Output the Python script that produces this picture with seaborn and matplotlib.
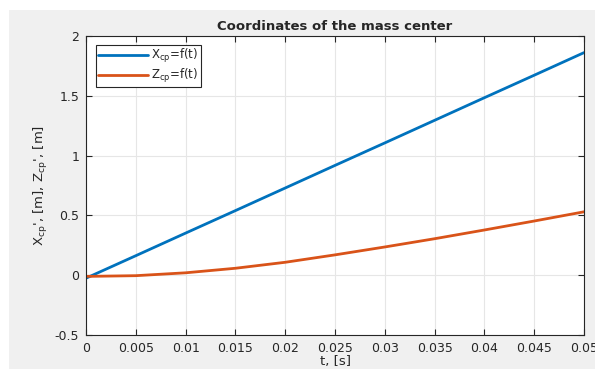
import numpy as np
import pandas as pd
import seaborn as sns
import matplotlib.pyplot as plt
from matplotlib.patches import Rectangle

t = [0.0, 0.005, 0.01, 0.015, 0.02, 0.025, 0.03, 0.035, 0.04, 0.045, 0.05]
x_cp = [-0.025, 0.163, 0.352, 0.540, 0.729, 0.918, 1.106, 1.295, 1.484, 1.672, 1.861]
z_cp = [-0.010, -0.004, 0.020, 0.058, 0.108, 0.170, 0.236, 0.305, 0.378, 0.453, 0.530]
series_names = ["$\\mathregular{X_{cp}}$=f(t)", "$\\mathregular{Z_{cp}}$=f(t)"]
xticks = [0, 0.005, 0.01, 0.015, 0.02, 0.025, 0.03, 0.035, 0.04, 0.045, 0.05]
xticklabels = ["0", "0.005", "0.01", "0.015", "0.02", "0.025", "0.03", "0.035", "0.04", "0.045", "0.05"]
yticks = [-0.5, 0, 0.5, 1, 1.5, 2]
yticklabels = ["-0.5", "0", "0.5", "1", "1.5", "2"]

df = pd.DataFrame({
    "t": t * 2,
    "v": x_cp + z_cp,
    "s": [series_names[0]] * len(t) + [series_names[1]] * len(t),
})

sns.set_style("whitegrid")
plt.rcParams['font.family'] = ['DejaVu Sans']
plt.rcParams['mathtext.fontset'] = 'dejavusans'

fig = plt.figure(figsize=(5.95, 3.69), dpi=100)
fig.patch.set_facecolor('white')
fig.patches.append(Rectangle((9 / 595, 0), 1, 1 - 10 / 369, transform=fig.transFigure,
                             facecolor='#f0f0f0', edgecolor='none', zorder=-10))

ax = fig.add_axes([86 / 595, 1 - 335 / 369, (584 - 86) / 595, (335 - 36) / 369])
ax.set_facecolor('white')
sns.lineplot(data=df, x="t", y="v", hue="s", palette=['#0072BD', '#D95319'],
             linewidth=2, ax=ax, legend=True, sort=False)

ax.set_xlim(0, 0.05)
ax.set_ylim(-0.5, 2)
ax.set_xticks(xticks)
ax.set_xticklabels(xticklabels)
ax.set_yticks(yticks)
ax.set_yticklabels(yticklabels)
ax.grid(True, color='#e6e6e6', linewidth=0.8)
ax.tick_params(direction='in', length=4, width=0.8, colors='#262626', labelsize=9,
               top=True, right=True, left=True, bottom=True, pad=5)
ax.tick_params(axis='both', labelcolor='#262626')
for sp in ax.spines.values():
    sp.set_visible(True)
    sp.set_color('#262626')
    sp.set_linewidth(0.8)

ax.set_title("Coordinates of the mass center", fontsize=9.5, fontweight='bold', pad=4)
ax.set_xlabel("t, [s]", fontsize=9.5, color='#262626', labelpad=0)
ax.set_ylabel("$\\mathregular{X_{cp}}$', [m], $\\mathregular{Z_{cp}}$', [m]", fontsize=9.5,
              color='#262626', labelpad=3)

leg = ax.legend(loc='upper left', bbox_to_anchor=(10 / 498, 1 - 9 / 299), fontsize=8.5,
                frameon=True, fancybox=False, handlelength=4.2, borderpad=0.2,
                labelspacing=0.15, handletextpad=0.3, borderaxespad=0)
leg.get_frame().set_edgecolor('#262626')
leg.get_frame().set_linewidth(0.8)
leg.get_frame().set_alpha(1)

fig.savefig("out.png", dpi=100)
